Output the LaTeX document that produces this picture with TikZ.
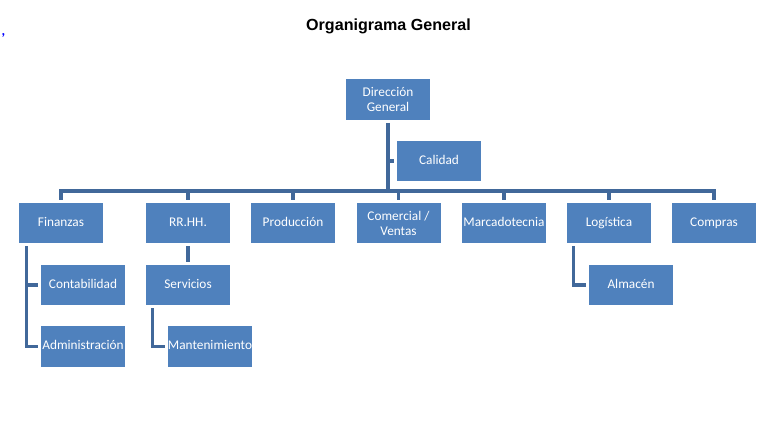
\documentclass[tikz,border=0pt]{standalone}
\usepackage{fontspec}
\setmainfont{Carlito}
\newfontfamily\titlefont{Liberation Sans}
\usepackage{tikz}
\definecolor{boxblue}{HTML}{4F81BD}
\definecolor{wireblue}{HTML}{41689A}
\tikzset{
	unit/.style={rectangle, fill=boxblue, text=white, minimum width=84pt, minimum height=40.5pt, inner sep=0pt, text height=9pt, text depth=3pt, align=center, font=\fontsize{13.3}{15}\selectfont},
	pair/.style={unit, text height={}, text depth={}},
	wire/.style={draw=wireblue, line width=3.2pt},
	gap/.style={shorten <=3pt, shorten >=3pt}
}

\begin{document}
\begin{tikzpicture}[x=1pt, y=-1pt]
				\useasboundingbox (0, 0) rectangle (764, 432);
				% Title:
				\node[font=\titlefont\bfseries\fontsize{16.1}{18}\selectfont](title) at (388.5, 26.5){Organigrama General};
				\node[text=blue, font=\bfseries\fontsize{14}{14}\selectfont](mark) at (3.5, 35){,};
				% Boxes:
				\node[pair](dg) at (388, 99.5){Dirección\\General};
				\node[unit](cal) at (439, 161){Calidad};
				\node[unit](fin) at (61, 223){Finanzas};
				\node[unit](rrhh) at (188, 223){RR.HH.};
				\node[unit](prod) at (293, 223){Producción};
				\node[pair](com) at (398.5, 223){Comercial /\\Ventas};
				\node[unit](mkt) at (504, 223){Marcadotecnia};
				\node[unit](log) at (609, 223){Logística};
				\node[unit](comp) at (714, 223){Compras};
				\node[unit](cont) at (83, 285){Contabilidad};
				\node[unit](serv) at (188, 285){Servicios};
				\node[unit](alm) at (631, 285){Almacén};
				\node[unit](adm) at (83, 346.5){Administración};
				\node[unit](mant) at (210, 346.5){Mantenimiento};
				% Lines:
				\coordinate (bar) at (0, 191);
				\draw[wire, shorten <=3pt] (dg.south) -- (dg.south |- bar);
				\draw[wire, shorten >=3pt] (dg.south |- cal.west) -- (cal.west);
				\draw[wire, line cap=rect] (fin.north |- bar) -- (comp.north |- bar);
				\foreach \n in {fin, rrhh, prod, com, mkt, log, comp}
					\draw[wire, shorten >=3pt] (\n.north |- bar) -- (\n.north);
				\draw[wire, gap] (rrhh.south) -- (serv.north);
				\draw[wire, shorten >=3pt] ([xshift=8pt, yshift=-3pt]fin.south west) |- (cont.west);
				\draw[wire, shorten >=3pt] ([xshift=8pt, yshift=-3pt]fin.south west) |- (adm.west);
				\draw[wire, shorten >=3pt] ([xshift=7pt, yshift=-3pt]serv.south west) |- (mant.west);
				\draw[wire, shorten >=3pt] ([xshift=7pt, yshift=-3pt]log.south west) |- (alm.west);
			\end{tikzpicture}
\end{document}
